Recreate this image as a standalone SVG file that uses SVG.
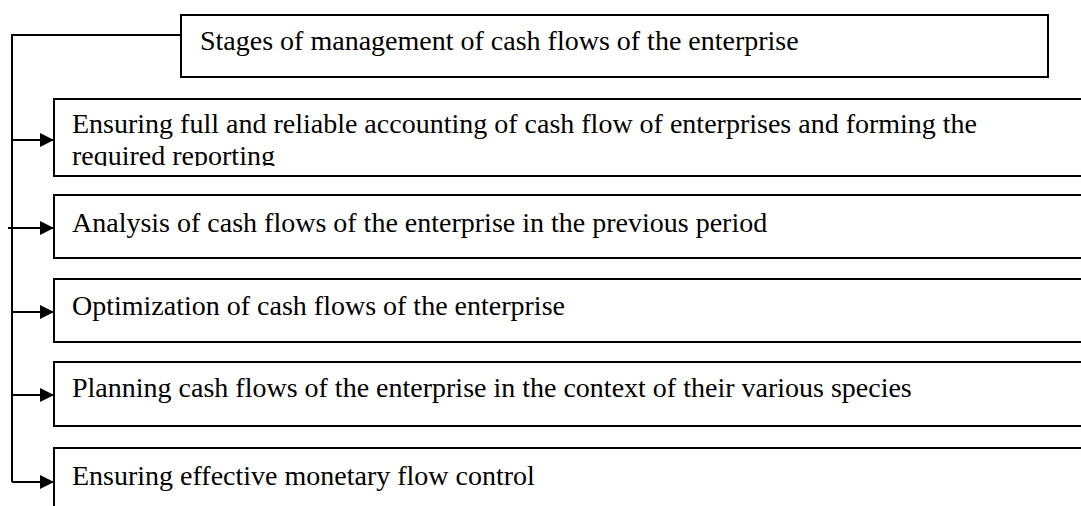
<svg xmlns="http://www.w3.org/2000/svg" width="1081" height="506" viewBox="0 0 1081 506">
<style>
.box{fill:#fff;stroke:#000;stroke-width:2}
.t{font-family:"Liberation Serif","Times New Roman",serif;font-size:28px;fill:#000}
.c{fill:none;stroke:#000;stroke-width:2}
</style>
<defs>
<marker id="ah" markerUnits="userSpaceOnUse" markerWidth="14" markerHeight="14" refX="14" refY="7" orient="auto">
<path d="M0,0 L14,7 L0,14 Z" fill="#000"/>
</marker>
<clipPath id="clip2"><rect x="54" y="99" width="1030" height="67"/></clipPath>
</defs>
<rect width="1081" height="506" fill="#fff"/>
<g id="connectors">
<path class="c" d="M181,35 H12 V482"/>
<path class="c" d="M12,140 H54" marker-end="url(#ah)"/>
<path class="c" d="M8,228 H54" marker-end="url(#ah)"/>
<path class="c" d="M12,312 H54" marker-end="url(#ah)"/>
<path class="c" d="M12,395 H54" marker-end="url(#ah)"/>
<path class="c" d="M12,482 H54" marker-end="url(#ah)"/>
</g>
<g id="n0">
<rect class="box" x="181" y="15" width="867" height="62"/>
<text class="t" x="200" y="50">Stages of management of cash flows of the enterprise</text>
</g>
<g id="n1">
<rect class="box" x="54" y="99" width="1040" height="77"/>
<g clip-path="url(#clip2)">
<text class="t" x="72" y="133">Ensuring full and reliable accounting of cash flow of enterprises and forming the</text>
<text class="t" x="72" y="165">required reporting</text>
</g>
</g>
<g id="n2">
<rect class="box" x="54" y="195" width="1040" height="63"/>
<text class="t" x="72" y="232">Analysis of cash flows of the enterprise in the previous period</text>
</g>
<g id="n3">
<rect class="box" x="54" y="279" width="1040" height="63"/>
<text class="t" x="72" y="315">Optimization of cash flows of the enterprise</text>
</g>
<g id="n4">
<rect class="box" x="54" y="362" width="1040" height="64"/>
<text class="t" x="72" y="397">Planning cash flows of the enterprise in the context of their various species</text>
</g>
<g id="n5">
<rect class="box" x="54" y="448" width="1040" height="80"/>
<text class="t" x="72" y="485">Ensuring effective monetary flow control</text>
</g>
</svg>
